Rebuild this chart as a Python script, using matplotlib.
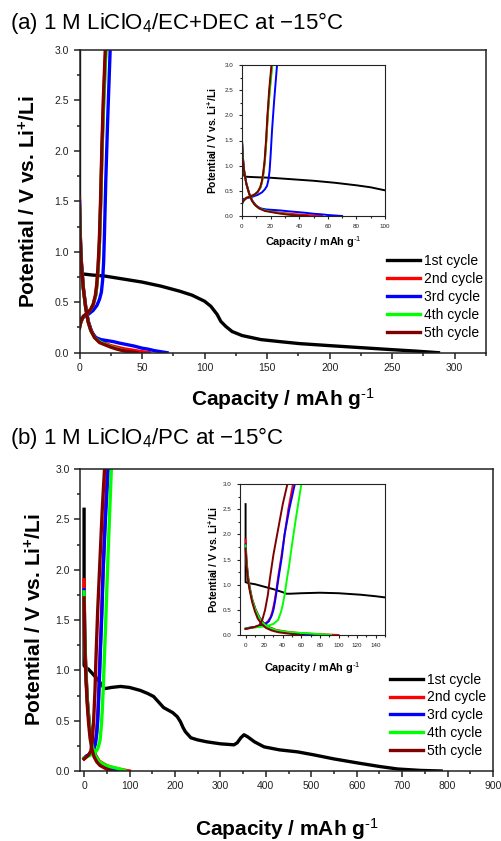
import numpy as np
import matplotlib.pyplot as plt
from matplotlib.ticker import MultipleLocator, FormatStrFormatter

plt.rcParams['font.family'] = ['Liberation Sans', 'DejaVu Sans']
plt.rcParams['mathtext.fontset'] = 'custom'
plt.rcParams['mathtext.rm'] = 'Liberation Sans'
plt.rcParams['mathtext.bf'] = 'Liberation Sans:bold'
plt.rcParams['mathtext.it'] = 'Liberation Sans:italic'

labels = ['1st cycle', '2nd cycle', '3rd cycle', '4th cycle', '5th cycle']
colors = ['#000000', '#ff0000', '#0000ff', '#00ff00', '#800000']

# (a) 1 M LiClO4 / EC+DEC, -15 C
a_c1_x = [0, 0, 0.5, 1.5, 3, 10, 20, 35, 50, 65, 80, 90, 100, 105, 110, 113, 117,
          122, 130, 145, 160, 176, 200, 225, 250, 270, 287]
a_c1_y = [3.0, 1.5, 1.0, 0.8, 0.78, 0.77, 0.76, 0.73, 0.70, 0.66, 0.61, 0.57, 0.51,
          0.46, 0.38, 0.31, 0.26, 0.21, 0.17, 0.13, 0.11, 0.09, 0.07, 0.05, 0.03, 0.015, 0.0]

a_dis_x = [
    [0, 0.5, 1.5, 3, 5, 7, 9, 12, 16, 20, 25, 30, 35, 40, 45, 50, 56],
    [0, 0.5, 1.5, 3, 5, 7, 10, 13, 17, 22, 27, 32, 38, 44, 50, 55, 60, 65, 70],
    [0, 0.5, 1.5, 3, 5, 7, 9, 12, 16, 20, 25, 30, 35, 42],
    [0, 0.5, 1.5, 3, 5, 7, 9, 12, 16, 20, 25, 30, 35, 40, 46],
]
a_dis_y = [
    [1.53, 1.2, 0.9, 0.65, 0.45, 0.31, 0.23, 0.16, 0.12, 0.095, 0.07, 0.055, 0.04, 0.03, 0.02, 0.01, 0.0],
    [1.5, 1.2, 0.9, 0.65, 0.45, 0.31, 0.2, 0.15, 0.13, 0.12, 0.11, 0.095, 0.08, 0.065, 0.045, 0.035, 0.02, 0.01, 0.0],
    [1.45, 1.15, 0.88, 0.64, 0.44, 0.3, 0.22, 0.15, 0.11, 0.085, 0.06, 0.04, 0.02, 0.0],
    [1.45, 1.15, 0.88, 0.64, 0.44, 0.3, 0.22, 0.15, 0.1, 0.08, 0.055, 0.035, 0.02, 0.01, 0.0],
]
a_chg_x = [
    [0, 1, 3, 6, 9, 11, 13, 14, 15, 16, 17, 18, 19.3, 21],
    [0, 3, 7, 11, 14, 16, 17.5, 18.5, 19.3, 20, 21, 22.5, 24.5],
    [0, 1, 3, 6, 9, 11, 13, 14, 15, 16, 17, 18, 19.5, 21.2],
    [0, 1, 3, 6, 9, 11, 12.7, 13.8, 14.8, 15.8, 16.8, 17.8, 19, 20.6],
]
a_chg_y = [
    [0.25, 0.3, 0.36, 0.39, 0.43, 0.48, 0.57, 0.68, 0.85, 1.1, 1.5, 2.0, 2.5, 3.0],
    [0.33, 0.35, 0.38, 0.42, 0.47, 0.53, 0.6, 0.72, 0.9, 1.2, 1.7, 2.3, 3.0],
    [0.25, 0.3, 0.36, 0.39, 0.43, 0.48, 0.57, 0.68, 0.85, 1.1, 1.5, 2.0, 2.5, 3.0],
    [0.24, 0.3, 0.36, 0.39, 0.43, 0.48, 0.57, 0.68, 0.85, 1.1, 1.5, 2.0, 2.5, 3.0],
]

# (b) 1 M LiClO4 / PC, -15 C
b_c1_x = [0, 0, 3, 10, 20, 30, 40, 44, 48, 60, 80, 100, 124, 140, 153, 165, 175, 183,
          195, 205, 212, 218, 223, 235, 249, 270, 300, 330, 337, 345, 352, 360, 375,
          396, 430, 470, 506, 550, 602, 650, 690, 740, 786]
b_c1_y = [2.6, 1.05, 1.03, 1.01, 0.96, 0.91, 0.85, 0.82, 0.82, 0.83, 0.84, 0.83, 0.80,
          0.77, 0.74, 0.68, 0.63, 0.61, 0.58, 0.54, 0.49, 0.43, 0.39, 0.33, 0.31, 0.29,
          0.27, 0.26, 0.28, 0.33, 0.36, 0.34, 0.29, 0.24, 0.21, 0.19, 0.16, 0.12, 0.08,
          0.045, 0.02, 0.006, 0.0]

b_dis_x = [
    [0, 1, 2.5, 4.5, 7, 11, 15, 19, 25, 33, 45, 55, 70, 85, 100],
    [0, 1, 2.5, 4.5, 7, 11, 15, 19, 25, 33, 45, 55, 65, 72],
    [0, 1, 2.5, 4.5, 7, 11, 15, 19, 25, 33, 45, 55, 70, 82, 92],
    [0, 1, 2.5, 4.5, 7, 10, 13, 17, 22, 28, 35, 45, 52, 60],
]
b_dis_y = [
    [1.9, 1.5, 1.2, 0.95, 0.72, 0.5, 0.35, 0.25, 0.16, 0.1, 0.065, 0.045, 0.025, 0.012, 0.0],
    [1.8, 1.45, 1.15, 0.92, 0.7, 0.48, 0.34, 0.24, 0.15, 0.09, 0.05, 0.03, 0.012, 0.0],
    [1.78, 1.45, 1.15, 0.92, 0.7, 0.48, 0.33, 0.23, 0.15, 0.095, 0.06, 0.045, 0.03, 0.015, 0.0],
    [1.72, 1.38, 1.1, 0.88, 0.66, 0.47, 0.33, 0.22, 0.14, 0.09, 0.055, 0.03, 0.015, 0.0],
]
b_chg_x = [
    [0, 5, 10, 15, 20, 24, 27, 29, 31, 33, 35, 38, 42, 46, 51],
    [0, 5, 10, 15, 20, 25, 28, 30, 32, 34, 36, 39, 42, 47, 53],
    [0, 5, 10, 15, 20, 25, 30, 35, 38, 40, 42, 44, 47, 50, 54, 57, 60],
    [0, 5, 10, 15, 18, 21, 24, 26, 28, 30, 33, 36, 40, 45],
]
b_chg_y = [
    [0.12, 0.14, 0.16, 0.18, 0.21, 0.27, 0.36, 0.48, 0.65, 0.88, 1.15, 1.5, 2.0, 2.5, 3.0],
    [0.13, 0.15, 0.16, 0.18, 0.2, 0.27, 0.38, 0.5, 0.7, 0.95, 1.2, 1.55, 2.0, 2.5, 3.0],
    [0.13, 0.14, 0.15, 0.16, 0.17, 0.19, 0.22, 0.3, 0.45, 0.6, 0.8, 1.05, 1.4, 1.8, 2.3, 2.65, 3.0],
    [0.12, 0.14, 0.16, 0.2, 0.3, 0.5, 0.8, 1.1, 1.35, 1.6, 1.9, 2.2, 2.6, 3.0],
]

ylab = r'Potential / V vs. Li$^{\mathbf{+}}$/Li'
xlab = r'Capacity / mAh g$^{\text{-1}}$'


def draw_curves(ax, c1x, c1y, dx, dy, cx, cy, lw):
    ax.plot(c1x, c1y, color=colors[0], lw=lw, label=labels[0])
    for i in range(4):
        ax.plot(dx[i], dy[i], color=colors[i + 1], lw=lw, label=labels[i + 1])
        ax.plot(cx[i], cy[i], color=colors[i + 1], lw=lw)


def style_axes(ax, fs, major_len, minor_len, width):
    ax.set_ylim(0, 3.0)
    ax.yaxis.set_major_locator(MultipleLocator(0.5))
    ax.yaxis.set_minor_locator(MultipleLocator(0.25))
    ax.yaxis.set_major_formatter(FormatStrFormatter('%.1f'))
    ax.tick_params(which='both', direction='out', top=False, right=False,
                   labelsize=fs, width=width, colors='#222222')
    ax.tick_params(which='major', length=major_len)
    ax.tick_params(which='minor', length=minor_len)
    for s in ax.spines.values():
        s.set_linewidth(width)
        s.set_color('#222222')


fig = plt.figure(figsize=(5.01, 8.41), dpi=100)

panels = [
    dict(title=r'(a) 1 M LiClO$_4$/EC+DEC at −15°C', ty=1 - 29.5 / 841,
         main=[79.5, 50, 486, 352.7], xlim=(0, 325), major=50, minor=25,
         inset=[242, 65, 385, 216], ixlim=(0, 100),
         data=(a_c1_x, a_c1_y, a_dis_x, a_dis_y, a_chg_x, a_chg_y),
         ylx=-0.098, xly=-0.11, iylx=-0.16, ixly=-0.12, leg=(0.756, 0.326)),
    dict(title=r'(b) 1 M LiClO$_4$/PC at −15°C', ty=1 - 443.5 / 841,
         main=[80, 469, 493, 771], xlim=(-9, 900), major=100, minor=50,
         inset=[240, 484, 385, 635], ixlim=(-6, 150),
         data=(b_c1_x, b_c1_y, b_dis_x, b_dis_y, b_chg_x, b_chg_y),
         ylx=-0.083, xly=-0.15, iylx=-0.14, ixly=-0.17, leg=(0.751, 0.326)),
]

W, H = 501.0, 841.0
for p in panels:
    l, t, r, b = p['main']
    ax = fig.add_axes([l / W, 1 - b / H, (r - l) / W, (b - t) / H])
    draw_curves(ax, *p['data'], lw=2.4)
    ax.set_xlim(*p['xlim'])
    ax.xaxis.set_major_locator(MultipleLocator(p['major']))
    ax.xaxis.set_minor_locator(MultipleLocator(p['minor']))
    style_axes(ax, 7.5, 4, 2.5, 1.1)
    ax.set_ylabel(ylab, fontsize=15, fontweight='bold')
    ax.yaxis.set_label_coords(p['ylx'], 0.5)
    ax.set_xlabel(xlab, fontsize=15, fontweight='bold')
    ax.xaxis.set_label_coords(0.5, p['xly'])
    ax.legend(loc='upper left', bbox_to_anchor=p['leg'], frameon=False,
              fontsize=10, handlelength=2.4, handletextpad=0.25,
              labelspacing=0.28, borderpad=0, borderaxespad=0)

    fig.text(10 / W, p['ty'], p['title'], fontsize=16, va='baseline', ha='left')

    l, t, r, b = p['inset']
    ins = fig.add_axes([l / W, 1 - b / H, (r - l) / W, (b - t) / H])
    draw_curves(ins, *p['data'], lw=1.4)
    ins.set_xlim(*p['ixlim'])
    ins.xaxis.set_major_locator(MultipleLocator(20))
    ins.xaxis.set_minor_locator(MultipleLocator(10))
    style_axes(ins, 4.5, 2.5, 1.5, 0.8)
    ins.set_ylabel(ylab, fontsize=7.5, fontweight='bold')
    ins.yaxis.set_label_coords(p['iylx'], 0.5)
    ins.set_xlabel(xlab, fontsize=7.8, fontweight='bold')
    ins.xaxis.set_label_coords(0.5, p['ixly'])

fig.savefig('out.png', dpi=100)
